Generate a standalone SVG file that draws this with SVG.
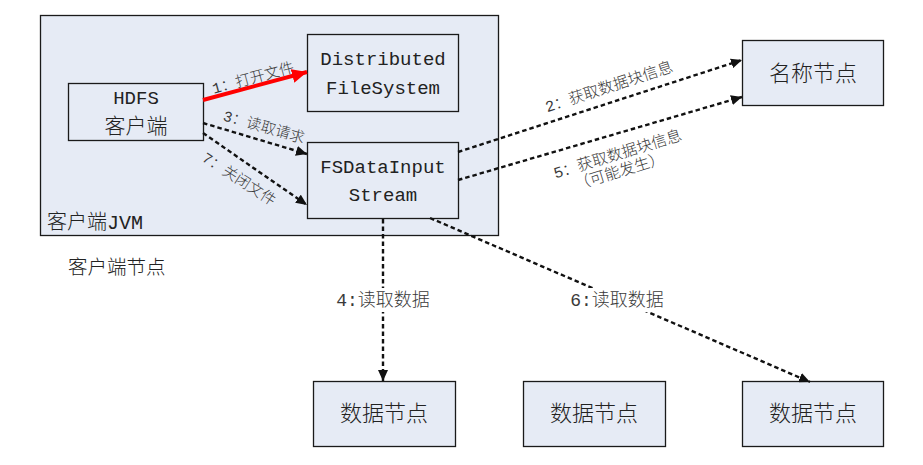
<svg xmlns="http://www.w3.org/2000/svg" width="923" height="465" viewBox="0 0 923 465">
<style>
.box{fill:#e6ebf5;stroke:#1a1a1a;stroke-width:1.3}
.t{font-family:"Liberation Mono","Noto Sans CJK SC",monospace;fill:#222;text-anchor:middle;font-weight:300}
.cjk{font-family:"Noto Sans CJK SC",sans-serif;fill:#222;text-anchor:middle;font-weight:300}
.dash{fill:none;stroke:#111;stroke-width:2.4;stroke-dasharray:4.5 3}
.lbl{font-family:"Liberation Mono","Noto Sans CJK SC",monospace;fill:#3a3a3a;text-anchor:middle;font-weight:300}
</style>
<defs>
<marker id="ah" markerUnits="userSpaceOnUse" markerWidth="12" markerHeight="10" refX="11" refY="5" orient="auto">
<path d="M0,0 L11,5 L0,10 z" fill="#111"/>
</marker>
<marker id="ahr" markerUnits="userSpaceOnUse" markerWidth="16" markerHeight="14" refX="15" refY="7" orient="auto">
<path d="M0,0 L15,7 L0,14 z" fill="#ff0000"/>
</marker>
</defs>
<rect width="923" height="465" fill="#ffffff"/>

<g id="client-jvm">
<rect class="box" x="40.5" y="15.5" width="458" height="220"/>
<text class="t" x="47" y="229" style="text-anchor:start" font-size="20">客户端JVM</text>
</g>
<g id="client-node-label">
<text class="cjk" x="68" y="274" style="text-anchor:start" font-size="19.5">客户端节点</text>
</g>

<g id="hdfs-client">
<rect class="box" x="68.5" y="83.5" width="135" height="57"/>
<text class="t" x="136" y="104" font-size="19">HDFS</text>
<text class="cjk" x="136" y="133" font-size="21">客户端</text>
</g>

<g id="dfs">
<rect class="box" x="307.5" y="34.5" width="151" height="77"/>
<text class="t" x="383" y="65" font-size="19">Distributed</text>
<text class="t" x="383" y="94" font-size="19">FileSystem</text>
</g>

<g id="fsdis">
<rect class="box" x="307.5" y="142.5" width="151" height="76"/>
<text class="t" x="383" y="173" font-size="19">FSDataInput</text>
<text class="t" x="383" y="201" font-size="19">Stream</text>
</g>

<g id="namenode">
<rect class="box" x="742.5" y="40.5" width="141" height="65"/>
<text class="cjk" x="813" y="81" font-size="22">名称节点</text>
</g>

<g id="datanode1">
<rect class="box" x="313.5" y="381.5" width="142" height="65"/>
<text class="cjk" x="384" y="421" font-size="22">数据节点</text>
</g>
<g id="datanode2">
<rect class="box" x="523.5" y="381.5" width="142" height="65"/>
<text class="cjk" x="594" y="421" font-size="22">数据节点</text>
</g>
<g id="datanode3">
<rect class="box" x="742.5" y="381.5" width="141" height="65"/>
<text class="cjk" x="813" y="421" font-size="22">数据节点</text>
</g>

<g id="connectors">
<line x1="203" y1="100" x2="307" y2="72" stroke="#ff0000" stroke-width="4" marker-end="url(#ahr)"/>
<line class="dash" x1="203" y1="123" x2="307" y2="154" marker-end="url(#ah)"/>
<line class="dash" x1="203" y1="133" x2="307" y2="205" marker-end="url(#ah)"/>
<line class="dash" x1="458" y1="152" x2="742" y2="60" marker-end="url(#ah)"/>
<line class="dash" x1="458" y1="180" x2="742" y2="97" marker-end="url(#ah)"/>
<line class="dash" x1="383" y1="219" x2="383" y2="381" marker-end="url(#ah)"/>
<line class="dash" x1="430" y1="218" x2="810" y2="382" marker-end="url(#ah)"/>

<g transform="translate(253,78) rotate(-15)"><text class="lbl" x="0" y="5" font-size="15">1：打开文件</text></g>
<g transform="translate(264,127) rotate(16)"><text class="lbl" x="0" y="5" font-size="15">3：读取请求</text></g>
<g transform="translate(239,179) rotate(33)"><text class="lbl" x="0" y="5" font-size="15">7：关闭文件</text></g>
<g transform="translate(609,87) rotate(-18)"><text class="lbl" x="0" y="5" font-size="15.5">2：获取数据块信息</text></g>
<g transform="translate(620,162) rotate(-17)"><text class="lbl" x="0" y="-3" font-size="15.5">5：获取数据块信息</text><text class="lbl" x="-3" y="14" font-size="15.5">（可能发生）</text></g>

<rect x="333" y="288" width="100" height="24" fill="#ffffff"/>
<text class="lbl" x="383" y="306" font-size="18" fill="#222">4:读取数据</text>
<rect x="566" y="288" width="102" height="24" fill="#ffffff"/>
<text class="lbl" x="617" y="306" font-size="18" fill="#222">6:读取数据</text>
</g>
</svg>
